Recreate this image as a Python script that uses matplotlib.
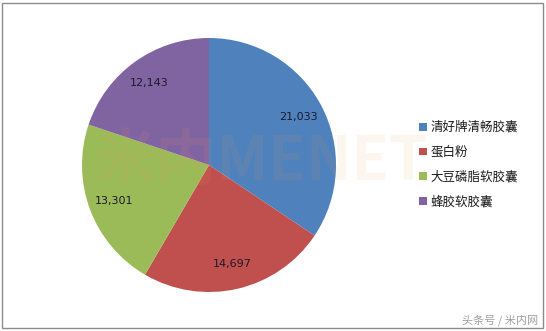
import numpy as np
import matplotlib.pyplot as plt
from matplotlib.patches import Rectangle

plt.rcParams['font.family'] = ['Noto Sans CJK SC', 'DejaVu Sans']

# data
products = ['清好牌清畅胶囊', '蛋白粉', '大豆磷脂软胶囊', '蜂胶软胶囊']
sales = [21033, 14697, 13301, 12143]
colors = ['#4F81BD', '#C0504D', '#9BBB59', '#8064A2']

W, H = 546, 331
fig = plt.figure(figsize=(W / 100, H / 100), dpi=100)

# pie placed by pixel box
cx, cy, r = 209, 165, 127
ax = fig.add_axes([(cx - r) / W, (H - cy - r) / H, 2 * r / W, 2 * r / H])
wedges, texts = ax.pie(sales, colors=colors, startangle=90, counterclock=False,
                       radius=1, wedgeprops=dict(linewidth=0))
ax.set_xlim(-1, 1)
ax.set_ylim(-1, 1)
ax.set_aspect('equal')

# value labels at the middle of each wedge
total = sum(sales)
start = 90
for v in sales:
    ang = np.deg2rad(start - v / total * 180)
    ax.text(0.8 * np.cos(ang), 0.8 * np.sin(ang), f'{v:,}', ha='center', va='center',
            fontsize=8, color='#1a1a2e', family='DejaVu Sans')
    start -= v / total * 360

# faint watermark
fig.text(95 / W, 1 - 162 / H, '米内MENET', fontsize=44, color='#F0A050', alpha=0.09,
         ha='left', va='center', fontweight='bold', zorder=0.5)

leg = fig.legend(wedges, products, loc='upper left',
                 bbox_to_anchor=(414 / W, 1 - 116 / H), frameon=False,
                 fontsize=9, handlelength=0.6, handleheight=0.6,
                 handletextpad=0.3, labelspacing=0.95, borderaxespad=0)
for t in leg.get_texts():
    t.set_color('#1a1a1a')

fig.text(538 / W, 1 - 320 / H, '头条号 / 米内网', fontsize=8, color='#a0a0a0',
         ha='right', va='center', style='italic')

fig.patches.append(Rectangle((2 / W, 3 / H), 541 / W, 325 / H, transform=fig.transFigure,
                             fill=False, edgecolor='#8c8c8c', linewidth=1))

fig.savefig('out.png', dpi=100)
